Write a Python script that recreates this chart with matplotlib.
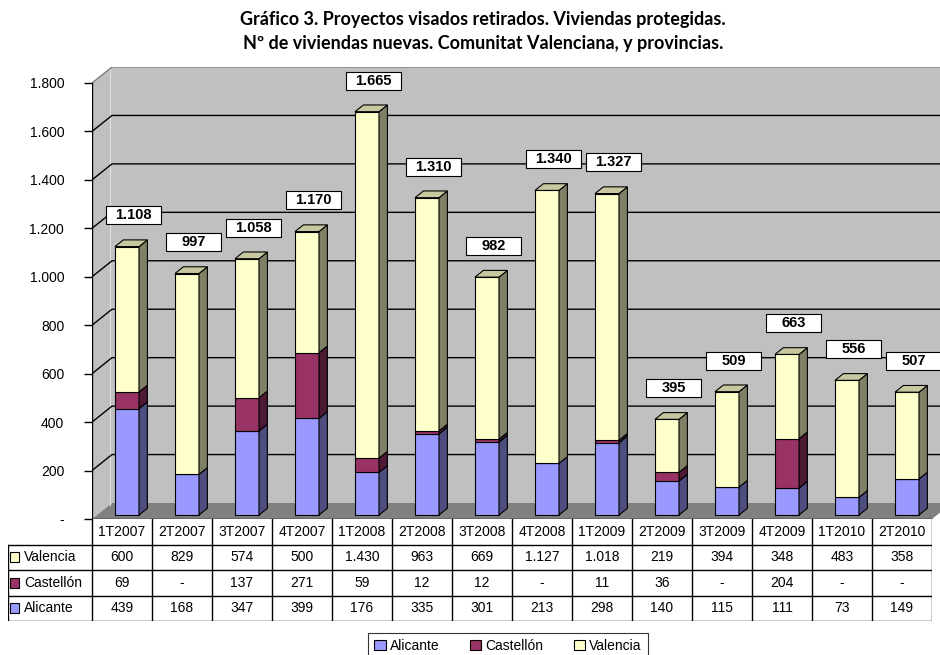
import matplotlib
matplotlib.use('Agg')
import matplotlib.pyplot as plt
import matplotlib.patches as mpatches
from matplotlib.patches import Polygon, Rectangle

quarters = ['1T2007', '2T2007', '3T2007', '4T2007', '1T2008', '2T2008', '3T2008',
            '4T2008', '1T2009', '2T2009', '3T2009', '4T2009', '1T2010', '2T2010']
alicante = [439, 168, 347, 399, 176, 335, 301, 213, 298, 140, 115, 111, 73, 149]
castellon = [69, 0, 137, 271, 59, 12, 12, 0, 11, 36, 0, 204, 0, 0]
valencia = [600, 829, 574, 500, 1430, 963, 669, 1127, 1018, 219, 394, 348, 483, 358]
y_ticks = [0, 200, 400, 600, 800, 1000, 1200, 1400, 1600, 1800]

series = [('Alicante', alicante, '#9999FF', '#4D4D80', '#7A7ACC'),
          ('Castellón', castellon, '#993366', '#4D1A33', '#7A2952'),
          ('Valencia', valencia, '#FFFFCC', '#808066', '#C8C8A0')]


def fmt(v):
    if v == 0:
        return '-'
    return f'{v:,}'.replace(',', '.')


plt.rcParams['font.family'] = ['Liberation Sans', 'DejaVu Sans']

W, H = 940, 655
fig = plt.figure(figsize=(W / 100, H / 100), dpi=100)

# geometry (pixels)
x0_px, zero_px, top_px = 92, 519, 67
col_px = 60
ppu = (519 - 83) / 1800.0
DX = 20 / col_px
DY = 16 / ppu
xmax = (W - x0_px) / col_px
ymax = (zero_px - top_px) / ppu

ax = fig.add_axes([x0_px / W, 1 - zero_px / H, (W - x0_px) / W, (zero_px - top_px) / H])
ax.set_xlim(0, xmax)
ax.set_ylim(0, ymax)
for s in ax.spines.values():
    s.set_visible(False)
ax.set_xticks([])
ax.set_yticks(y_ticks)
ax.set_yticklabels([fmt(v) for v in y_ticks], fontsize=10)
ax.tick_params(axis='y', length=6, width=1, pad=14, direction='out')
ax.patch.set_alpha(0)

n = len(quarters)
top_v = y_ticks[-1]

# walls and floor
ax.add_patch(Polygon([(DX, DY), (xmax, DY), (xmax, top_v + DY), (DX, top_v + DY)],
                     closed=True, facecolor='#C0C0C0', edgecolor='none', zorder=0))
ax.add_patch(Polygon([(0, 0), (DX, DY), (DX, top_v + DY), (0, top_v)],
                     closed=True, facecolor='#C0C0C0', edgecolor='none', zorder=0))
ax.add_patch(Polygon([(0, 0), (n, 0), (n + DX, DY), (DX, DY)],
                     closed=True, facecolor='#808080', edgecolor='none', zorder=1))
ax.plot([DX * 0.9, DX * 0.9], [DY * 0.9, top_v + DY * 0.9], color='#E0E0E0', lw=0.8, zorder=1)

for v in y_ticks[1:]:
    c = '#808080' if v == top_v else 'black'
    ax.plot([0, DX, xmax], [v, v + DY, v + DY], color=c, lw=1, zorder=1)
ax.plot([0, 0], [0, top_v], color='black', lw=1, zorder=2)
ax.plot([0, n], [0, 0], color='black', lw=1, zorder=2)

# 3D stacked bars
f1, f2 = 0.25, 0.67
bw = 0.4
dd = (f2 - f1) * DX
dh = (f2 - f1) * DY
xs = [i + 0.30 + f1 * DX for i in range(n)]
bottoms = [0] * n
totals = [a + c + v for a, c, v in zip(alicante, castellon, valencia)]

for name, vals, front, side, topc in series:
    ax.bar(xs, vals, width=bw, bottom=[b + f1 * DY for b in bottoms], align='edge',
           color=front, edgecolor='black', linewidth=0.8, zorder=3)
    for i in range(n):
        if vals[i] == 0:
            continue
        b = bottoms[i] + f1 * DY
        t = b + vals[i]
        xr = xs[i] + bw
        ax.add_patch(Polygon([(xr, b), (xr + dd, b + dh), (xr + dd, t + dh), (xr, t)],
                             closed=True, facecolor=side, edgecolor='black', lw=0.8, zorder=3))
    bottoms = [b + v for b, v in zip(bottoms, vals)]

# total labels in fixed-size white boxes
box_w = 55 / col_px
box_h = 18 / ppu
for i in range(n):
    t = totals[i] + f1 * DY
    xl = xs[i]
    ax.add_patch(Polygon([(xl, t), (xl + bw, t), (xl + bw + dd, t + dh), (xl + dd, t + dh)],
                         closed=True, facecolor=series[-1][4], edgecolor='black', lw=0.8, zorder=3))
    cx, cy = i + 0.69, totals[i] + 145
    ax.add_patch(Rectangle((cx - box_w / 2, cy - box_h / 2), box_w, box_h,
                           facecolor='white', edgecolor='black', lw=0.8, zorder=5))
    ax.text(cx, cy, fmt(totals[i]), ha='center', va='center',
            fontsize=10.5, fontweight='bold', zorder=6)

# data table
tab_left = 8
tab_right = x0_px + n * col_px
tax = fig.add_axes([tab_left / W, 1 - 621 / H, (tab_right - tab_left) / W, (621 - zero_px) / H])
lab_x = -(x0_px - tab_left) / col_px
tax.set_xlim(lab_x, n)
tax.set_ylim(4, 0)
tax.axis('off')

for r in range(1, 5):
    tax.plot([lab_x, n], [r, r], color='black', lw=1)
tax.plot([lab_x, lab_x], [1, 4], color='black', lw=1)
for c in range(n + 1):
    tax.plot([c, c], [0, 4], color='black', lw=1)

for i, q in enumerate(quarters):
    tax.text(i + 0.5, 0.5, q, ha='center', va='center', fontsize=10)

rows = list(reversed(series))
for r, (name, vals, front, side, topc) in enumerate(rows, start=1):
    tax.add_patch(Rectangle((lab_x + 0.04, r + 0.3), 0.15, 0.4, facecolor=front,
                            edgecolor='black', lw=0.8))
    tax.text(lab_x + 0.27, r + 0.5, name, ha='left', va='center', fontsize=10)
    for i, v in enumerate(vals):
        tax.text(i + 0.5, r + 0.5, fmt(v), ha='center', va='center', fontsize=10)

# title
fig.text(483 / W, 1 - 20 / H, 'Gráfico 3. Proyectos visados retirados. Viviendas protegidas.',
         ha='center', va='center', fontsize=13, fontweight='bold', family='Lato')
fig.text(483 / W, 1 - 43 / H, 'Nº de viviendas nuevas. Comunitat Valenciana, y provincias.',
         ha='center', va='center', fontsize=13, fontweight='bold', family='Lato')

# legend
handles = [mpatches.Patch(facecolor=s[2], edgecolor='black', lw=0.8, label=s[0]) for s in series]
leg = fig.legend(handles=handles, ncol=3, loc='center', bbox_to_anchor=(508 / W, 1 - 646 / H),
                 frameon=True, fancybox=False, edgecolor='black', fontsize=10,
                 handlelength=0.8, handleheight=0.8, handletextpad=0.3, columnspacing=2.2,
                 borderpad=0.45)
leg.get_frame().set_linewidth(0.8)

fig.savefig('out.png', dpi=100)
